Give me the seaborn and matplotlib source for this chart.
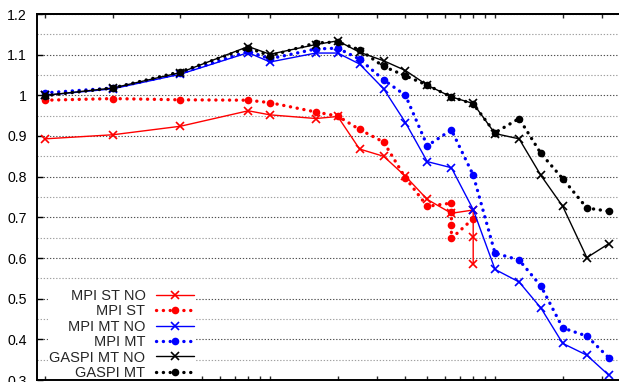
import numpy as np
import pandas as pd
import matplotlib
matplotlib.use("Agg")
import matplotlib.pyplot as plt
import seaborn as sns
from matplotlib.ticker import FixedLocator, MultipleLocator, NullFormatter, FuncFormatter, LogLocator

# ---------------- data ----------------
x_full = [1, 2, 4, 8, 10, 16, 20, 25, 32, 40, 50, 64, 80, 100, 128, 160, 200, 256, 320]

mpi_st_no_x = [1, 2, 4, 8, 10, 16, 20, 25, 32, 40, 50, 64, 80, 80, 80]
mpi_st_no_y = [0.893, 0.903, 0.924, 0.962, 0.952, 0.943, 0.948, 0.868, 0.850, 0.801,
               0.744, 0.710, 0.718, 0.651, 0.585]

mpi_st_x = [1, 2, 4, 8, 10, 16, 20, 25, 32, 40, 50, 64, 64, 64, 64, 80]
mpi_st_y = [0.988, 0.992, 0.989, 0.988, 0.982, 0.959, 0.949, 0.916, 0.885, 0.797,
            0.727, 0.735, 0.712, 0.681, 0.648, 0.697]

mpi_mt_no_y = [1.000, 1.016, 1.052, 1.105, 1.082, 1.104, 1.104, 1.077, 1.016, 0.933,
               0.837, 0.822, 0.719, 0.572, 0.541, 0.477, 0.390, 0.361, 0.312]
mpi_mt_y = [1.006, 1.018, 1.054, 1.108, 1.090, 1.114, 1.116, 1.089, 1.038, 1.000,
            0.876, 0.915, 0.804, 0.612, 0.595, 0.531, 0.428, 0.408, 0.355]
gaspi_mt_no_y = [1.000, 1.018, 1.056, 1.120, 1.101, 1.125, 1.134, 1.106, 1.085, 1.061,
                 1.025, 0.996, 0.980, 0.906, 0.893, 0.803, 0.727, 0.601, 0.635]
gaspi_mt_y = [0.999, 1.018, 1.058, 1.117, 1.097, 1.129, 1.131, 1.112, 1.071, 1.048,
              1.025, 0.996, 0.979, 0.908, 0.943, 0.857, 0.795, 0.723, 0.715]

labels = ["MPI ST NO", "MPI ST", "MPI MT NO", "MPI MT", "GASPI MT NO", "GASPI MT"]
colors = ["#ff0000", "#ff0000", "#0000ff", "#0000ff", "#000000", "#000000"]
top_ticks = [1, 2, 4, 8, 10, 20, 30, 40, 50, 60, 70, 80, 90, 100, 200, 300]
y_ticks = [0.3, 0.4, 0.5, 0.6, 0.7, 0.8, 0.9, 1.0, 1.1, 1.2]

# ---------------- style ----------------
sns.set_theme(style="white")
plt.rcParams["font.family"] = ["Liberation Sans", "DejaVu Sans"]

W, H = 619, 382
fig = plt.figure(figsize=(W / 100, H / 100), dpi=100)
left_px, right_px, top_px, bot_px = 36.7, 640, 14, 380
ax = fig.add_axes([left_px / W, (H - bot_px) / H, (right_px - left_px) / W, (bot_px - top_px) / H])

series = [
    (mpi_st_no_x, mpi_st_no_y, "solid"),
    (mpi_st_x, mpi_st_y, "dot"),
    (x_full, mpi_mt_no_y, "solid"),
    (x_full, mpi_mt_y, "dot"),
    (x_full, gaspi_mt_no_y, "solid"),
    (x_full, gaspi_mt_y, "dot"),
]

for (xs, ys, kind), lab, col in zip(series, labels, colors):
    df = pd.DataFrame({"x": xs, "y": ys})
    if kind == "solid":
        sns.lineplot(data=df, x="x", y="y", ax=ax, sort=False, estimator=None,
                     color=col, lw=1.0, marker="x", markersize=6, markeredgewidth=1.2,
                     markeredgecolor=col, label=lab, zorder=3)
    else:
        sns.lineplot(data=df, x="x", y="y", ax=ax, sort=False, estimator=None,
                     color=col, lw=2.4, linestyle=(0, (0.05, 2.0)), dash_capstyle="round",
                     marker="o", markersize=5.5, markeredgewidth=0, markerfacecolor=col,
                     label=lab, zorder=3)

ax.set_xscale("log")
px0 = 45.0
dec = 225.0
ax.set_xlim(10 ** ((left_px - px0) / dec), 10 ** ((right_px - px0) / dec))
ax.set_ylim(0.3, 1.2)
ax.set_xlabel("")
ax.set_ylabel("")

# y axis
ax.yaxis.set_major_locator(FixedLocator(y_ticks))
ax.yaxis.set_minor_locator(MultipleLocator(0.05))
ax.yaxis.set_major_formatter(FuncFormatter(lambda v, p: "%g" % round(v, 2)))
ax.tick_params(axis="y", which="major", direction="in", length=4, width=1.0,
               labelsize=10.2, pad=7, colors="black", left=True, right=False)
ax.tick_params(axis="y", which="minor", length=0)

# x axis bottom: log ticks, no labels (cropped in the reference)
ax.xaxis.set_major_locator(LogLocator(base=10, subs=np.arange(1, 10)))
ax.xaxis.set_minor_locator(FixedLocator([]))
ax.xaxis.set_major_formatter(NullFormatter())
ax.tick_params(axis="x", which="major", direction="in", length=3, width=1.0,
               bottom=True, top=False, labelbottom=False)

sec = ax.secondary_xaxis("top")
sec.xaxis.set_major_locator(FixedLocator(top_ticks))
sec.xaxis.set_minor_locator(FixedLocator([]))
sec.xaxis.set_major_formatter(NullFormatter())
sec.tick_params(axis="x", direction="in", length=3, width=1.0, labeltop=False)
sec.spines["top"].set_linewidth(1.4)

# grid
ax.grid(False)
ax.yaxis.grid(True, which="major", color="#505050", linestyle=(0, (1.2, 1.6)), lw=0.8)
ax.yaxis.grid(True, which="minor", color="#a0a0a0", linestyle=(0, (1.2, 1.6)), lw=0.8)
ax.set_axisbelow(True)

for s in ["left", "bottom", "top"]:
    ax.spines[s].set_linewidth(1.4)
    ax.spines[s].set_color("black")
ax.spines["right"].set_visible(False)

# legend
handles, labs = ax.get_legend_handles_labels()
leg = ax.legend(handles, labs, loc="lower right",
                bbox_to_anchor=(195 / W, (H - 381.5) / H), bbox_transform=fig.transFigure,
                markerfirst=False, frameon=True, fancybox=False, framealpha=1,
                facecolor="white", edgecolor="none", fontsize=10.5,
                handlelength=2.6, handletextpad=0.7, labelspacing=0.1,
                borderpad=0.1, borderaxespad=0)
leg.set_zorder(5)
for s in ax.spines.values():
    s.set_zorder(6)

fig.savefig("out.png", dpi=100)
